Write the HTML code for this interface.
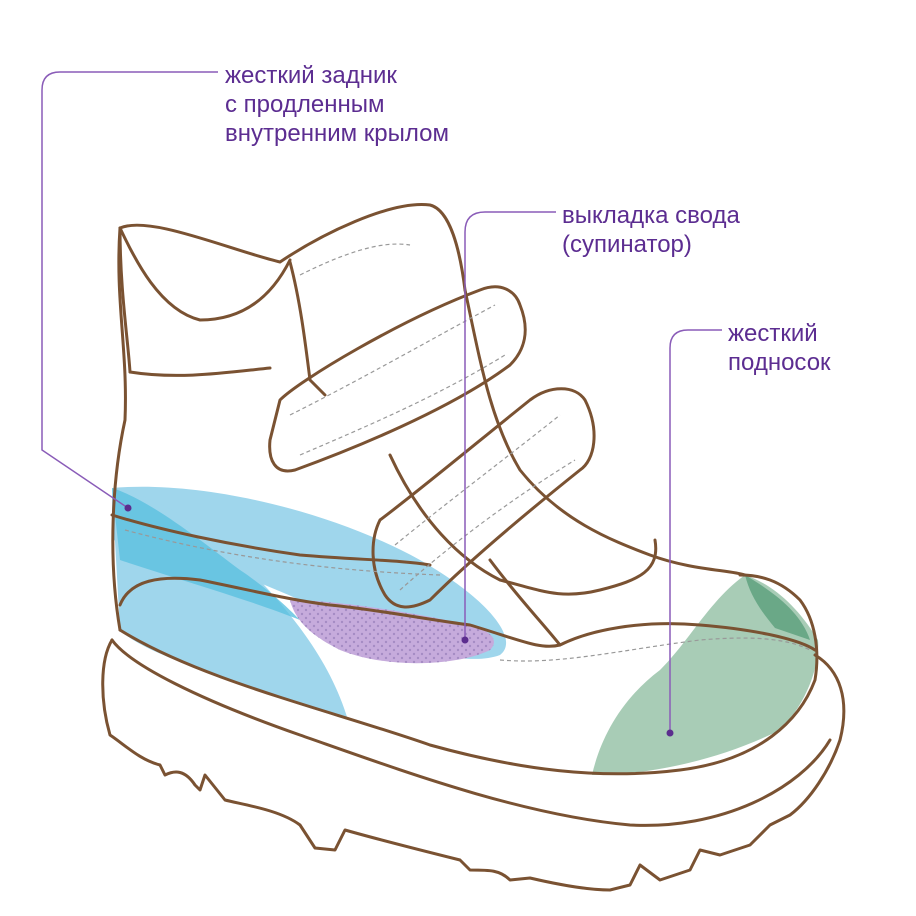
<!DOCTYPE html>
<html><head><meta charset="utf-8"><style>
html,body{margin:0;padding:0;background:#fff}
svg{display:block}
text{font-family:"Liberation Sans",sans-serif;font-size:24px;fill:#5c2d91}
</style></head><body>
<svg width="916" height="916" viewBox="0 0 916 916">
<defs>
<pattern id="dots" width="8" height="8" patternUnits="userSpaceOnUse"><circle cx="2" cy="2" r="1.2" fill="#a58cc4"/><circle cx="6" cy="6" r="1.2" fill="#a58cc4"/></pattern>
</defs>
<path d="M112,488 C200,480 330,510 420,560 C490,600 520,640 500,655 C460,670 380,640 300,600 C220,565 160,545 112,540 Z" fill="#9fd6ec"/>
<path d="M112,488 C140,490 200,520 240,560 C290,610 330,660 348,720 L300,705 C200,670 140,650 120,630 Z" fill="#9fd6ec"/>
<path d="M112,488 C150,500 200,540 240,570 C270,590 290,610 300,620 C250,600 180,580 120,560 Z" fill="#5bc0e0" opacity="0.8"/>
<path d="M290,600 C330,600 400,610 470,625 C490,630 500,640 490,650 C460,665 390,670 340,650 C310,635 295,620 290,600 Z" fill="#c6abdc"/>
<path d="M290,600 C330,600 400,610 470,625 C490,630 500,640 490,650 C460,665 390,670 340,650 C310,635 295,620 290,600 Z" fill="url(#dots)"/>
<path d="M745,575 C710,600 690,640 660,670 C620,700 600,740 592,775 C650,775 720,760 780,730 C810,700 820,660 818,640 C800,610 775,585 745,575 Z" fill="#a8ccb6"/>
<path d="M745,575 C770,590 800,610 810,640 L775,628 C760,610 750,595 745,575 Z" fill="#6aa887"/>
<g fill="none" stroke="#7a5232" stroke-width="3" stroke-linejoin="round" stroke-linecap="round">
<path d="M112,640 C100,660 100,700 110,735 C125,745 140,760 160,765 L165,775 C175,770 185,770 195,785 L200,790 L205,775 L225,800 C245,805 280,810 300,825 L315,848 L335,850 L345,830 C380,840 420,850 460,860 L470,870 C490,870 500,870 510,880 L530,878 C560,885 590,890 610,890 L630,885 L640,865 L660,880 L690,870 L700,850 L720,855 L750,845 L770,825 L790,815 C810,800 830,770 840,740 C850,700 840,670 815,655"/>
<path d="M112,640 C130,665 200,700 300,735 C400,770 520,815 630,825 C720,830 800,790 830,740"/>
<path d="M120,630 C200,680 330,710 430,745 C520,770 600,780 680,770 C760,760 800,720 815,680 C820,650 815,620 800,600 C780,580 760,575 740,575"/>
<path d="M120,605 C130,580 160,575 200,580 C250,590 290,600 330,605 C380,610 430,620 470,625 C520,640 540,650 560,645 C590,630 640,620 700,625 C760,630 800,640 815,650"/>
<path d="M120,228 C115,300 128,350 125,420 C112,480 108,560 120,630"/>
<path d="M112,515 C160,530 230,545 300,555 C360,560 400,560 430,565"/>
<path d="M120,228 C150,215 230,250 280,262 C320,235 390,200 430,205 C450,210 460,250 465,290"/>
<path d="M120,228 C135,260 160,310 200,320 C240,320 270,300 290,260"/>
<path d="M130,372 C180,380 230,372 270,368"/>
<path d="M130,372 C128,340 120,290 120,228"/>
<path d="M465,290 C480,360 490,420 520,470 C560,520 610,540 650,555 C690,570 730,570 745,575"/>
<path d="M390,455 C420,520 460,560 500,580 C540,590 560,600 600,590 C640,580 660,570 655,540"/>
<path d="M490,560 C520,600 540,620 560,645"/>
<path d="M290,262 C300,300 305,340 310,380 L325,395"/>
<path d="M280,400 C300,380 400,320 480,290 C500,282 515,290 520,305 C530,330 525,350 510,365 C450,410 350,450 295,470 C275,475 268,460 270,440 Z"/>
<path d="M380,520 C420,490 480,440 530,400 C550,385 575,385 585,400 C600,430 595,460 580,470 C530,510 470,560 430,600 C410,610 395,610 385,595 C370,570 370,540 380,520 Z"/>
</g>
<g fill="none" stroke="#999" stroke-width="1.2" stroke-dasharray="4,3">
<path d="M290,415 C360,380 430,340 495,305"/>
<path d="M300,455 C370,425 440,395 505,355"/>
<path d="M395,545 C450,500 510,455 560,415"/>
<path d="M400,590 C450,545 510,500 575,460"/>
<path d="M125,530 C200,550 300,570 440,575"/>
<path d="M500,660 C560,665 620,650 700,640 C760,635 790,640 810,650"/>
<path d="M300,275 C340,255 380,240 410,245"/>
</g>
<g fill="none" stroke="#8a5cb8" stroke-width="1.5">
<path d="M218,72 L60,72 Q42,72 42,90 L42,450 L128,508"/>
<path d="M556,212 L485,212 Q465,212 465,232 L465,640"/>
<path d="M722,330 L688,330 Q670,330 670,348 L670,733"/>
</g>
<g fill="#5b2d8e"><circle cx="128" cy="508" r="3.5"/><circle cx="465" cy="640" r="3.5"/><circle cx="670" cy="733" r="3.5"/></g>
<text x="225" y="83">жесткий задник</text>
<text x="225" y="112">с продленным</text>
<text x="225" y="141">внутренним крылом</text>
<text x="562" y="223">выкладка свода</text>
<text x="562" y="252">(супинатор)</text>
<text x="728" y="341">жесткий</text>
<text x="728" y="370">подносок</text>
</svg>
</body></html>
